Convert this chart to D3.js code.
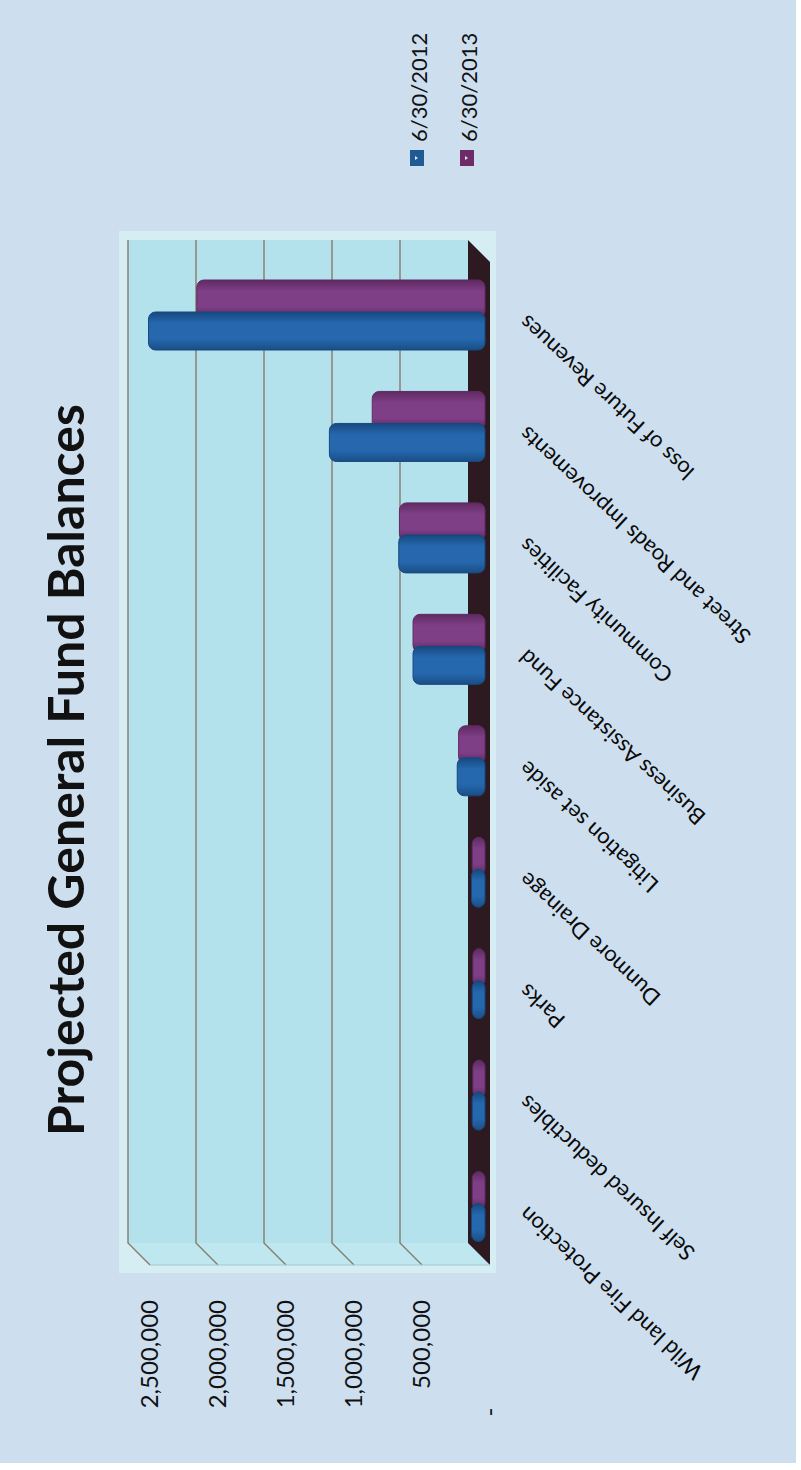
<!DOCTYPE html>
<html><head><meta charset="utf-8">
<script src="https://cdn.jsdelivr.net/npm/d3@7"></script>
<style>body{margin:0;background:#fff} svg{display:block}</style>
</head><body>
<svg id="c" width="801" height="1470"></svg>
<script>
const categories = ["Wild land Fire Protection","Self Insured deductibles","Parks","Dunmore Drainage","Litigation set aside","Business Assistance Fund","Community Facilities","Street and Roads Improvements","loss of Future Revenues"];
const series = ["6/30/2012","6/30/2013"];
const values2012 = [55000, 50000, 50000, 55000, 160000, 485000, 590000, 1100000, 2430000];
const values2013 = [50000, 45000, 45000, 50000, 150000, 485000, 585000, 785000, 2075000];
const tickValues = [0, 500000, 1000000, 1500000, 2000000, 2500000];
const tickLabels = ["-", "500,000", "1,000,000", "1,500,000", "2,000,000", "2,500,000"];
const title = "Projected General Fund Balances";
const seriesValues = [values2012, values2013];
const seriesColors = [["#17487f","#2568ae","#1a4e86"],["#5f2a62","#7f3f87","#5a275c"]];
const legendColors = ["#1f5a93","#6e2c67"];

const svg = d3.select("#c");
const FONT = "Lato, 'Open Sans', sans-serif";
const D = 22; // 3D depth offset

const x = d3.scaleLinear().domain([0, 2500000]).range([490, 150]);
const y = d3.scaleBand().domain(categories.slice().reverse()).range([262, 1265]);

svg.append("rect").attr("x",0).attr("y",0).attr("width",796).attr("height",1463).attr("fill","#cddfef");
svg.append("rect").attr("x",119).attr("y",231).attr("width",377).attr("height",1042).attr("fill","#d6edf3");

const x0b = x(0) - D, xMaxB = x(2500000) - D;
const yTopB = y.range()[0] - D, yBotB = y.range()[1] - D;
svg.append("rect").attr("x", xMaxB).attr("y", yTopB).attr("width", x0b - xMaxB).attr("height", yBotB - yTopB).attr("fill","#b3e2ec");
svg.append("polygon").attr("points", [[xMaxB,yBotB],[x0b,yBotB],[x(0),y.range()[1]],[x(2500000),y.range()[1]]].map(p=>p.join(",")).join(" ")).attr("fill","#bfe7ef");

const grid = svg.append("g").attr("stroke","#857c6c").attr("stroke-width",1.4).attr("fill","none");
tickValues.filter(v=>v>0).forEach(v=>{
  grid.append("path").attr("d", `M${x(v)-D},${yTopB} L${x(v)-D},${yBotB} L${x(v)},${y.range()[1]}`);
});
svg.append("polygon").attr("points", [[x0b,yTopB],[x(0),y.range()[0]],[x(0),y.range()[1]],[x0b,yBotB]].map(p=>p.join(",")).join(" ")).attr("fill","#2d1a21");
svg.append("line").attr("x1",x(2500000)).attr("x2",x(0)).attr("y1",y.range()[1]).attr("y2",y.range()[1]).attr("stroke","#9fc8d2").attr("stroke-width",1);

const defs = svg.append("defs");
seriesColors.forEach((c,i)=>{
  const g = defs.append("linearGradient").attr("id","g"+i).attr("x1",0).attr("x2",0).attr("y1",0).attr("y2",1);
  g.append("stop").attr("offset","0%").attr("stop-color",c[0]);
  g.append("stop").attr("offset","30%").attr("stop-color",c[1]);
  g.append("stop").attr("offset","70%").attr("stop-color",c[1]);
  g.append("stop").attr("offset","100%").attr("stop-color",c[2]);
});

const barH = 38;
[1,0].forEach(i=>{
  const g = svg.append("g");
  g.selectAll("rect").data(categories).join("rect")
    .attr("x", (c,k)=> x(seriesValues[i][k]) - 11)
    .attr("y", c => y(c) + 18 + (1 - i) * 32)
    .attr("width", (c,k)=> Math.max(0, x(0) - 5 - (x(seriesValues[i][k]) - 11)))
    .attr("height", barH)
    .attr("rx", 7)
    .attr("fill", `url(#g${i})`)
    .attr("stroke", seriesColors[i][0]).attr("stroke-width", 1);
});

svg.append("g").selectAll("text").data(tickValues).join("text")
  .attr("transform", (v,k)=> k===0 ? `translate(${x(v)+8},1412) rotate(-90)` : `translate(${x(v)+8},1300) rotate(-90)`)
  .attr("text-anchor", (v,k)=> k===0 ? "middle" : "end")
  .attr("font-family", FONT).attr("font-size", 24).attr("fill","#111")
  .text((v,k)=> tickLabels[k]);

svg.append("g").selectAll("text").data(categories).join("text")
  .attr("transform", c => `translate(528,${y(c) + y.bandwidth()/2 - 4}) rotate(-137)`)
  .attr("text-anchor","end")
  .attr("font-family", FONT).attr("font-size", 22).attr("fill","#0a0a0a")
  .text(c=>c);

const lg = svg.append("g");
series.forEach((s,i)=>{
  const lx = 427 + i*50;
  lg.append("rect").attr("x", lx-17).attr("y",150).attr("width",14).attr("height",16).attr("fill",legendColors[i]);
  lg.append("path").attr("d",`M${lx-12},${156} l3,2 l-3,2 z`).attr("fill","#dfe8f2");
  lg.append("text").attr("transform",`translate(${lx},142) rotate(-90)`)
    .attr("font-family", FONT).attr("font-size", 22).attr("fill","#111").text(s);
});

svg.append("text").attr("transform","translate(84,770) rotate(-90)")
  .attr("text-anchor","middle").attr("font-family", FONT).attr("font-weight","bold")
  .attr("font-size",50).attr("fill","#111").text(title);
</script>
</body></html>
